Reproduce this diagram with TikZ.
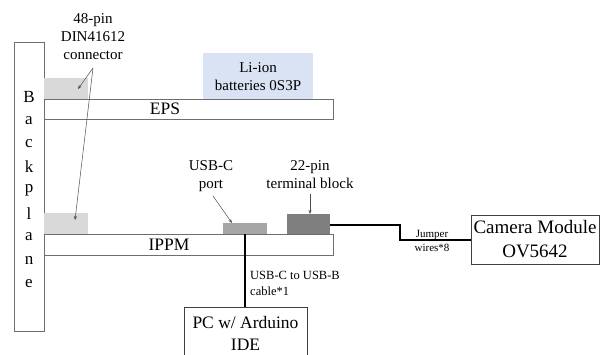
\documentclass[tikz,border=0pt]{standalone}
\usepackage{fontspec}
\setmainfont{Liberation Serif}
\usetikzlibrary{arrows.meta}
\definecolor{edge}{HTML}{6E6E6E}
\definecolor{conn}{HTML}{D9D9D9}
\definecolor{usbc}{HTML}{A6A6A6}
\definecolor{tblk}{HTML}{7F7F7F}
\definecolor{batt}{HTML}{DAE3F3}
\tikzset{
  board/.style={draw=edge, line width=1pt, fill=white},
  plainbox/.style={draw=black!75, line width=0.8pt, fill=white},
  lbl/.style={align=center, font=\fontsize{15}{18}\selectfont, inner sep=0pt},
  biglbl/.style={align=center, font=\fontsize{17.5}{22}\selectfont, inner sep=0pt},
  small/.style={align=left, font=\fontsize{12.5}{16}\selectfont, inner sep=0pt, anchor=west},
  tiny/.style={align=center, font=\fontsize{11}{14}\selectfont, inner sep=0pt},
  pointer/.style={draw=black!70, line width=0.5pt, -{Stealth[length=4pt,width=3pt]}},
  cable/.style={draw=black, line width=2pt},
}
\begin{document}
\begin{tikzpicture}[x=1pt,y=-1pt]
\useasboundingbox (0,0) rectangle (601,354);
% backplane
\draw[board] (14,42) rectangle (44,331);
\node[coordinate] (bp) at (29,42) {};
\foreach \l [count=\i] in {B,a,c,k,p,l,a,n,e}
  \node[font=\fontsize{17}{20}\selectfont, inner sep=0pt] at (29,{97+23.3*(\i-1)}) {\l};
% EPS
\fill[conn] (44,78) rectangle (88,99);
\node[coordinate] (c1) at (78,89) {};
\fill[batt] (203,53) rectangle (313,99);
\node[lbl] (batt) at (258,77) {Li-ion\\batteries 0S3P};
\draw[board] (44,99) rectangle (333,119);
\node[biglbl] (eps) at (165,109) {EPS};
% IPPM
\fill[conn] (44,213) rectangle (88,234);
\node[coordinate] (c2) at (75,220) {};
\fill[usbc] (223,223) rectangle (267,234);
\fill[tblk] (287,214) rectangle (330,234);
\node[coordinate] (usb) at (232,223) {};
\node[coordinate] (usbb) at (245,234) {};
\node[coordinate] (tb) at (310,214) {};
\node[coordinate] (tbr) at (330,225) {};
\draw[board] (44,234) rectangle (333,255);
\node[biglbl] (ippm) at (169,245) {IPPM};
% cable to PC
\draw[plainbox] (184,307) rectangle (307,360);
\node[coordinate] (pctop) at (245,307) {};
\node[biglbl] (pc) at (245.5,333) {PC w/ Arduino\\IDE};
\draw[cable] (usbb) -- (pctop);
\node[small] (usblbl) at (250,283) {USB-C to USB-B\\cable*1};
% camera
\draw[plainbox] (471,215) rectangle (599,264);
\node[coordinate] (camL) at (471,240) {};
\node[font=\fontsize{19}{24}\selectfont, align=center, inner sep=0pt] (cam) at (535,239.5) {Camera Module\\OV5642};
\draw[cable] (tbr) -- (400,225) -- (400,240) -- (camL);
\node[tiny] (jw) at (432,240.5) {Jumper\\wires*8};
% labels
\node[lbl] (dinlbl) at (93,37) {48-pin\\DIN41612\\connector};
\node[coordinate] (dinp) at (93,68) {};
\draw[pointer] (dinp) -- (c1);
\draw[pointer] (dinp) -- (c2);
\node[lbl] (usblabel) at (211,176) {USB-C\\port};
\draw[pointer] (213,196) -- (usb);
\node[lbl] (tblabel) at (310,175) {22-pin\\terminal block};
\draw[pointer] (310,194) -- (tb);
\end{tikzpicture}
\end{document}
